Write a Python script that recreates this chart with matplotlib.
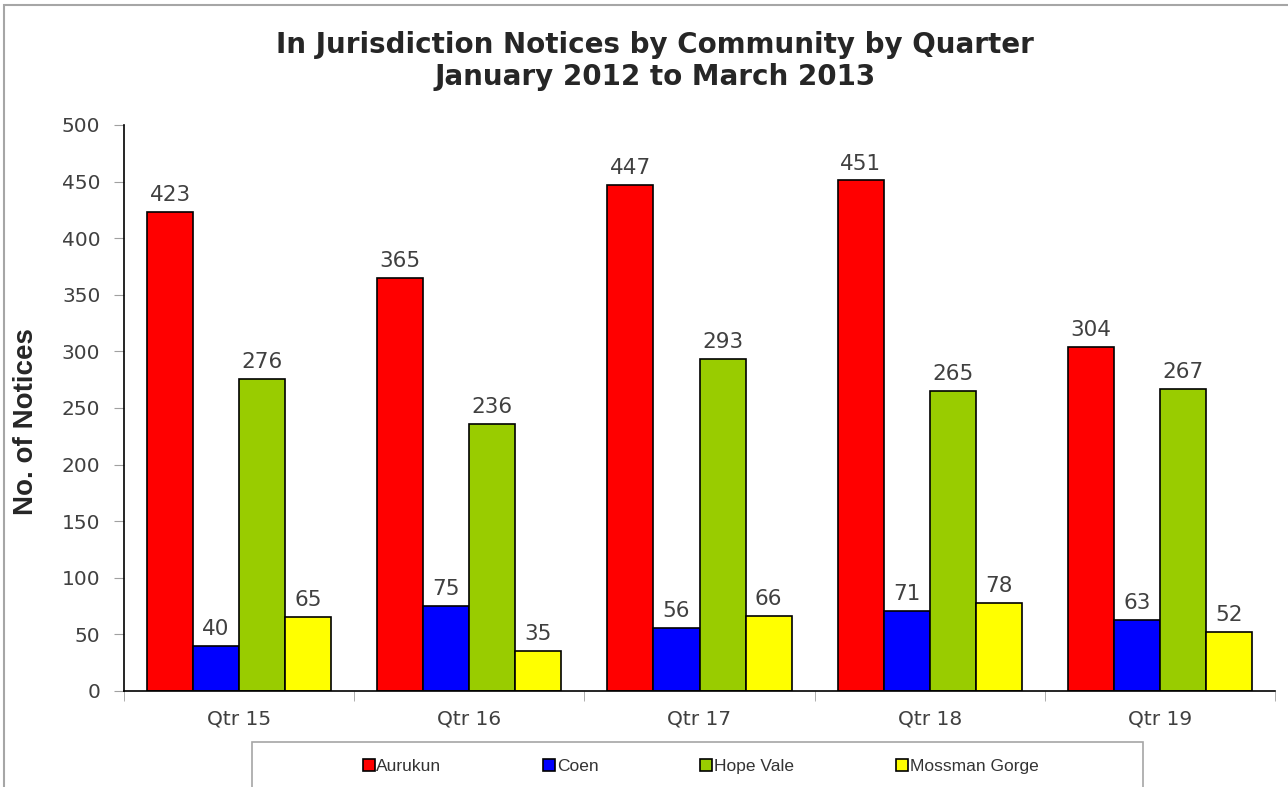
import matplotlib.pyplot as plt
import numpy as np
from matplotlib.patches import Rectangle

quarters = ["Qtr 15", "Qtr 16", "Qtr 17", "Qtr 18", "Qtr 19"]
communities = ["Aurukun", "Coen", "Hope Vale", "Mossman Gorge"]
aurukun = [423, 365, 447, 451, 304]
coen = [40, 75, 56, 71, 63]
hope_vale = [276, 236, 293, 265, 267]
mossman_gorge = [65, 35, 66, 78, 52]
colors = ["#ff0000", "#0000ff", "#99cc00", "#ffff00"]

series = [aurukun, coen, hope_vale, mossman_gorge]
label_color = "#404040"

fig = plt.figure(figsize=(12.88, 7.87), dpi=100)
ax = fig.add_axes([124 / 1288, 1 - 691 / 787, (1275 - 124) / 1288, (691 - 125) / 787])

# outer chart border (runs off right and bottom edges)
fig.patches.append(Rectangle((4 / 1288, -0.05), 1.1, 1 - 5 / 787 + 0.05,
                             transform=fig.transFigure, fill=False,
                             edgecolor="#a6a6a6", linewidth=1.5))

x = np.arange(len(quarters))
w = 0.2
for i, (vals, name, c) in enumerate(zip(series, communities, colors)):
    bars = ax.bar(x + (i - 1.5) * w, vals, w, color=c, edgecolor="black",
                  linewidth=1.2, label=name)
    ax.bar_label(bars, padding=5, fontsize=15.5, color=label_color)

ax.set_xlim(-0.5, len(quarters) - 0.5)
ax.set_ylim(0, 500)
ax.set_yticks(range(0, 501, 50))
ax.set_xticks(x)
ax.set_xticklabels(quarters)
ax.set_xticks(np.arange(-0.5, len(quarters), 1), minor=True)
ax.tick_params(axis="x", which="major", length=0, pad=13, labelsize=14.5, labelcolor=label_color)
ax.tick_params(axis="x", which="minor", length=7, color="#a0a0a0", direction="out")
ax.tick_params(axis="y", length=7, color="#a0a0a0", pad=10, labelsize=14.5, labelcolor=label_color)
for s in ["top", "right"]:
    ax.spines[s].set_visible(False)
ax.spines["left"].set_linewidth(1.2)
ax.spines["bottom"].set_linewidth(1.2)

fig.text(655 / 1288, 1 - 45 / 787, "In Jurisdiction Notices by Community by Quarter",
         ha="center", va="center", fontsize=20, fontweight="bold", color="#262626")
fig.text(655 / 1288, 1 - 77 / 787, "January 2012 to March 2013",
         ha="center", va="center", fontsize=20, fontweight="bold", color="#262626")
fig.text(26 / 1288, 1 - 422 / 787, "No. of Notices", rotation=90, ha="center", va="center",
         fontsize=20, fontweight="bold", family=["Liberation Sans", "DejaVu Sans"], color="#262626")

# legend box
fig.patches.append(Rectangle((252 / 1288, -0.05), (1143 - 252) / 1288, 1 - 742 / 787 + 0.05,
                             transform=fig.transFigure, fill=False,
                             edgecolor="#a6a6a6", linewidth=1.2))
handles = [plt.Line2D([], [], marker="s", linestyle="", markersize=8, markerfacecolor=c,
                      markeredgecolor="black", markeredgewidth=1.2) for c in colors]
fig.legend(handles, communities, loc="center", bbox_to_anchor=(700 / 1288, 1 - 766 / 787),
           ncol=4, frameon=False, handletextpad=0.05, columnspacing=5.8, handlelength=0.8,
           prop={"family": ["Liberation Sans", "DejaVu Sans"], "size": 12.5},
           labelcolor="#333333")

fig.savefig("out.png", dpi=100)
